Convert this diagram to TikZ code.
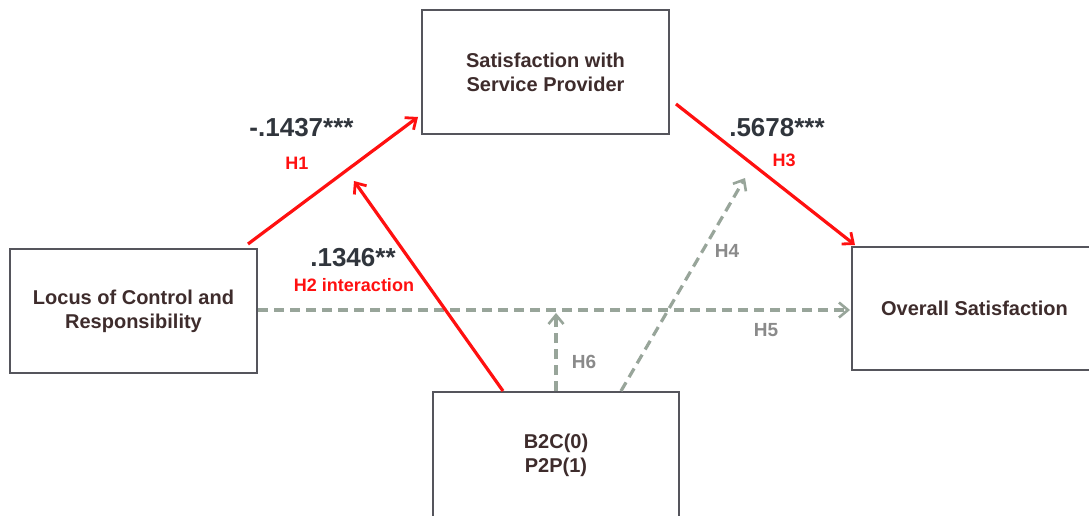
\documentclass[tikz,border=0pt]{standalone}
\usepackage{fontspec}
\setmainfont{Liberation Sans}
\usetikzlibrary{arrows.meta}
\definecolor{boxline}{HTML}{55555C}
\definecolor{boxtext}{HTML}{3E2C2C}
\definecolor{numtext}{HTML}{30353C}
\definecolor{hred}{HTML}{FF1010}
\definecolor{dashgray}{HTML}{98A59A}
\definecolor{hgray}{HTML}{8A8A8A}
\tikzset{
  varbox/.style={draw=boxline, line width=2pt, rectangle, align=center, text=boxtext,
    font=\fontsize{20}{24}\selectfont\bfseries, inner sep=0pt},
  redpath/.style={draw=hred, line width=3.2pt, -{Straight Barb[length=9pt,width=15pt,line width=2.8pt]}},
  graypath/.style={draw=dashgray, line width=3.2pt, dash pattern=on 10pt off 6pt, -{Straight Barb[length=9pt,width=15pt,line width=2.6pt]}},
  coef/.style={text=numtext, font=\fontsize{26}{30}\selectfont\bfseries, inner sep=0pt},
  redlab/.style={text=hred, font=\fontsize{18}{22}\selectfont\bfseries, inner sep=0pt},
  graylab/.style={text=hgray, font=\fontsize{19}{22}\selectfont\bfseries, inner sep=0pt}
}
\begin{document}
\begin{tikzpicture}[x=1pt,y=-1pt]
\useasboundingbox (0,0) rectangle (1089,516);
\fill[white] (0,0) rectangle (1089,516);
\clip (0,0) rectangle (1089,516);
% boxes
\node[varbox, minimum width=247pt, minimum height=124pt] (lbox) at (133.5,311) {Locus of Control and\\Responsibility};
\node[varbox, minimum width=247pt, minimum height=124pt] (tbox) at (545.5,72) {Satisfaction with\\Service Provider};
\node[varbox, minimum width=245pt, minimum height=123pt] (rbox) at (974.5,308.5) {Overall Satisfaction};
\node[varbox, minimum width=246pt, minimum height=127pt] (bbox) at (556,455.5) {B2C(0)\\P2P(1)};
% endpoints
\coordinate (h1s) at (248,244);
\coordinate (h1e) at (418,117);
\coordinate (h2s) at (bbox.north -| 503,0);
\coordinate (h2e) at (354,181);
\coordinate (h3s) at (676,104);
\coordinate (h3e) at (855,245);
\coordinate (h4s) at (bbox.north -| 621,0);
\coordinate (h4e) at (745,178);
\coordinate (h5s) at (lbox.east |- 0,310);
\coordinate (h5e) at (850,310);
\coordinate (h6s) at (bbox.north);
\coordinate (h6e) at (556,313);
% connectors
\draw[graypath] (h5s) -- (h5e);
\draw[graypath] (h6s) -- (h6e);
\draw[graypath] (h4s) -- (h4e);
\draw[redpath] (h1s) -- (h1e);
\draw[redpath] (h2s) -- (h2e);
\draw[redpath] (h3s) -- (h3e);
% labels
\node[coef] (c1) at (301.5,128) {-.1437***};
\node[redlab] (l1) at (297,163.5) {H1};
\node[coef] (c2) at (353,258) {.1346**};
\node[redlab] (l2) at (354,285) {H2 interaction};
\node[coef] (c3) at (777,128) {.5678***};
\node[redlab] (l3) at (784,160) {H3};
\node[graylab] (l4) at (727,251) {H4};
\node[graylab] (l5) at (766,330) {H5};
\node[graylab] (l6) at (584,362) {H6};
\end{tikzpicture}
\end{document}
